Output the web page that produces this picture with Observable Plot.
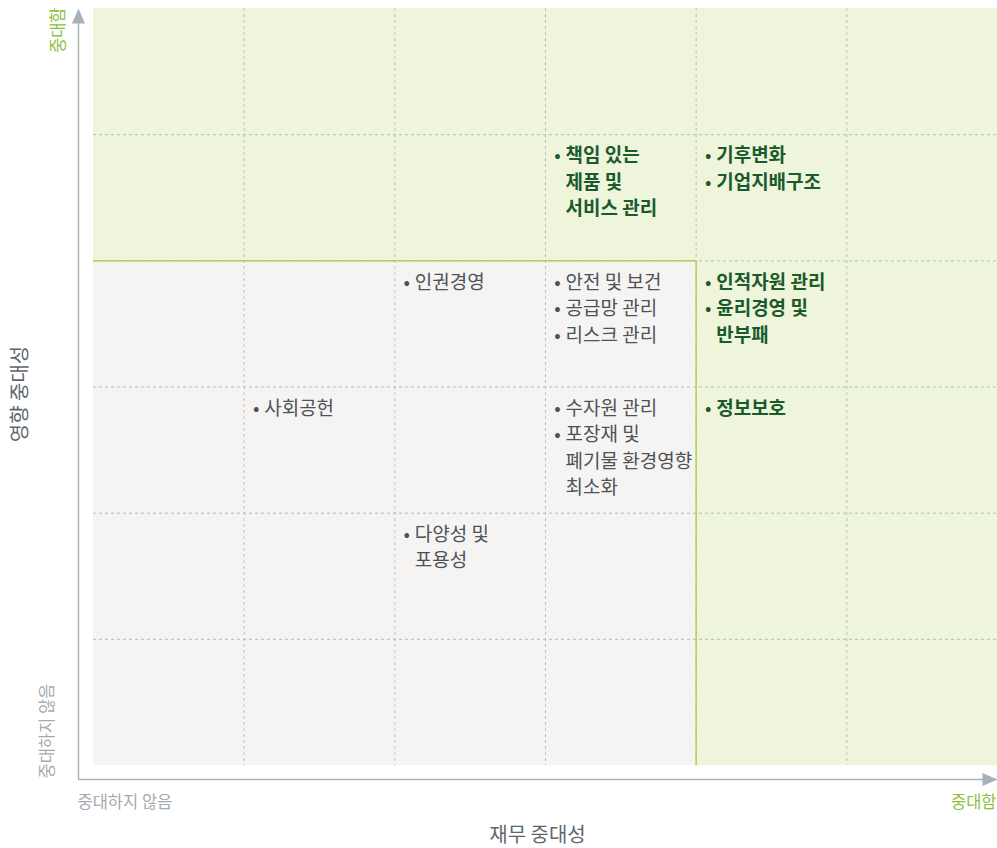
<!DOCTYPE html>
<html><head><meta charset="utf-8">
<script src="https://cdn.jsdelivr.net/npm/d3@7"></script>
<script src="https://cdn.jsdelivr.net/npm/@observablehq/plot@0.6"></script>
<style>body{margin:0;background:#fff;} svg{display:block}</style>
</head><body><div id="chart"></div>
<script>
// cells: column index (financial materiality), top edge (impact materiality)
const cellCol = [3, 4, 2, 3, 4, 1, 3, 4, 2];
const cellTop = [5, 5, 4, 4, 4, 3, 3, 3, 2];
const cellItems = [
  ["책임 있는\n제품 및\n서비스 관리"],
  ["기후변화", "기업지배구조"],
  ["인권경영"],
  ["안전 및 보건", "공급망 관리", "리스크 관리"],
  ["인적자원 관리", "윤리경영 및\n반부패"],
  ["사회공헌"],
  ["수자원 관리", "포장재 및\n폐기물 환경영향\n최소화"],
  ["정보보호"],
  ["다양성 및\n포용성"]
];
const gridTicks = [1, 2, 3, 4, 5];
const zoneX1 = [0, 4, 0], zoneX2 = [6, 6, 4];
const zoneY1 = [4, 0, 0], zoneY2 = [6, 4, 4];
const zoneKind = ["중대", "중대", "비중대"];
const boundX1 = [0, 4], boundY1 = [4, 4], boundX2 = [4, 4], boundY2 = [4, 0];
const threshold = 4;

const cells = cellCol.map((c, i) => ({
  col: c, top: cellTop[i],
  material: c >= threshold || cellTop[i] > threshold + 0.5,
  text: cellItems[i].join("\n"),
  bullets: cellItems[i].map(s => "•" + "\n".repeat(s.split("\n").length - 1)).join("\n")
}));
const zones = zoneKind.map((k, i) => ({k, x1: zoneX1[i], x2: zoneX2[i], y1: zoneY1[i], y2: zoneY2[i]}));
const bounds = boundX1.map((_, i) => ({x1: boundX1[i], y1: boundY1[i], x2: boundX2[i], y2: boundY2[i]}));

const upTri = {draw(ctx) { ctx.moveTo(0, -8); ctx.lineTo(6.5, 7); ctx.lineTo(-6.5, 7); ctx.closePath(); }};
const rightTri = {draw(ctx) { ctx.moveTo(8, 0); ctx.lineTo(-7, 6.5); ctx.lineTo(-7, -6.5); ctx.closePath(); }};

const axisCol = "#a9b1b8";
const green = "#8cbf3c";
const fs = 19, lh = 26.5 / 19;
const mat = cells.filter(d => d.material), non = cells.filter(d => !d.material);
const tdy = 9;

const chart = Plot.plot({
  width: 997, height: 848,
  marginLeft: 93, marginRight: 0, marginTop: 8, marginBottom: 83,
  x: {domain: [0, 6], axis: null},
  y: {domain: [0, 6], axis: null},
  color: {domain: ["중대", "비중대"], range: ["#eef5da", "#f5f4f2"]},
  style: {fontFamily: "'Noto Sans CJK KR', 'Noto Sans', sans-serif", background: "#fff"},
  marks: [
    Plot.rect(zones, {x1: "x1", x2: "x2", y1: "y1", y2: "y2", fill: "k"}),
    Plot.ruleX(gridTicks, {stroke: "#b9bec3", strokeDasharray: "3,3"}),
    Plot.ruleY(gridTicks, {stroke: "#aebccb", strokeDasharray: "3,3"}),
    Plot.link(bounds, {x1: "x1", y1: "y1", x2: "x2", y2: "y2", stroke: "#b3d152", strokeWidth: 1.5}),
    // items
    Plot.text(non, {x: "col", y: "top", text: "bullets", textAnchor: "middle", lineAnchor: "top", lineHeight: lh, dx: 12, dy: tdy, fontSize: fs, fill: "#4d5257"}),
    Plot.text(non, {x: "col", y: "top", text: "text", textAnchor: "start", lineAnchor: "top", lineHeight: lh, dx: 20, dy: tdy, fontSize: fs, fill: "#4d5257"}),
    Plot.text(mat, {x: "col", y: "top", text: "bullets", textAnchor: "middle", lineAnchor: "top", lineHeight: lh, dx: 12, dy: tdy, fontSize: fs, fill: "#1b5a2c"}),
    Plot.text(mat, {x: "col", y: "top", text: "text", textAnchor: "start", lineAnchor: "top", lineHeight: lh, dx: 20, dy: tdy, fontSize: fs, fontWeight: "bold", fill: "#1b5a2c"}),
    // axes
    Plot.ruleX([0], {dx: -15, insetTop: 12, insetBottom: -14, stroke: axisCol, strokeWidth: 1.5}),
    Plot.ruleY([0], {dy: 14, insetLeft: -15, insetRight: 10, stroke: axisCol, strokeWidth: 1.5}),
    Plot.dot([0], {frameAnchor: "top-left", dx: -15, dy: 8, symbol: upTri, fill: axisCol, stroke: null}),
    Plot.dot([0], {frameAnchor: "bottom-right", dx: -8, dy: 14, symbol: rightTri, fill: axisCol, stroke: null}),
    // labels
    Plot.text(["영향 중대성"], {frameAnchor: "left", dx: -73, dy: 7, rotate: -90, textAnchor: "middle", fontSize: 20, fill: "#60676d"}),
    Plot.text(["재무 중대성"], {frameAnchor: "bottom", dx: -8, dy: 76, textAnchor: "middle", fontSize: 20, fill: "#60676d"}),
    Plot.text(["중대함"], {frameAnchor: "top-left", dx: -41, dy: -1, rotate: -90, textAnchor: "end", fontSize: 16.5, fill: green}),
    Plot.text(["중대하지 않음"], {frameAnchor: "bottom-left", dx: -41, dy: 13, rotate: -90, textAnchor: "start", fontSize: 16.5, fill: "#a3abb2"}),
    Plot.text(["중대하지 않음"], {frameAnchor: "bottom-left", dx: -16, dy: 42, textAnchor: "start", fontSize: 16.5, fill: "#a3abb2"}),
    Plot.text(["중대함"], {frameAnchor: "bottom-right", dx: -1, dy: 42, textAnchor: "end", fontSize: 16.5, fill: green})
  ]
});
document.getElementById("chart").appendChild(chart);
</script>
</body></html>
